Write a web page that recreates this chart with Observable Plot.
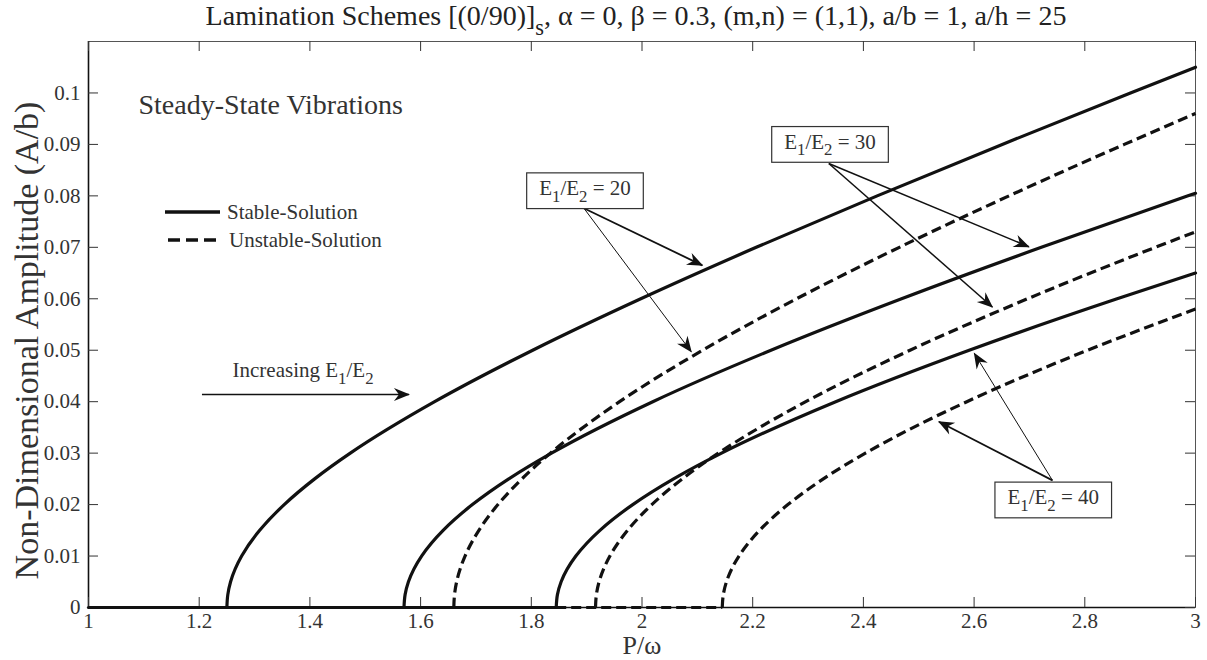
<!DOCTYPE html>
<html><head><meta charset="utf-8">
<script src="https://cdn.jsdelivr.net/npm/d3@7"></script>
<script src="https://cdn.jsdelivr.net/npm/@observablehq/plot@0.6"></script>
<style>
body{margin:0;background:#fff;overflow:hidden;}
#wrap{position:relative;width:1207px;height:660px;font-family:"Liberation Serif","Times New Roman",serif;}
#title{position:absolute;top:1px;left:636px;transform:translateX(-50%);white-space:nowrap;font-size:28px;line-height:30px;color:#222;}
#title sub{font-size:0.8em;vertical-align:-0.45em;line-height:0;}
#chart{position:absolute;left:0;top:0;}
</style></head>
<body><div id="wrap"><div id="chart"></div><div id="title">Lamination Schemes [(0/90)]<sub>s</sub>, α = 0, β = 0.3, (m,n) = (1,1), a/b = 1, a/h = 25</div></div>
<script>
// ---- axis ticks ----
const xTicks = [1, 1.2, 1.4, 1.6, 1.8, 2, 2.2, 2.4, 2.6, 2.8, 3];
const xTickLabels = ["1", "1.2", "1.4", "1.6", "1.8", "2", "2.2", "2.4", "2.6", "2.8", "3"];
const yTicks = [0, 0.01, 0.02, 0.03, 0.04, 0.05, 0.06, 0.07, 0.08, 0.09, 0.1];
const yTickLabels = ["0", "0.01", "0.02", "0.03", "0.04", "0.05", "0.06", "0.07", "0.08", "0.09", "0.1"];

// ---- E1/E2 = 20 ----
const e20StableP = [1.25, 1.2517, 1.2567, 1.2767, 1.3093, 1.3536, 1.4086, 1.473, 1.6254, 1.8025, 1.9978, 2.2064, 2.4249, 2.6508, 2.8825, 3.0];
const e20StableA = [0, 0.0025, 0.005, 0.01, 0.015, 0.02, 0.025, 0.03, 0.04, 0.05, 0.06, 0.07, 0.08, 0.09, 0.1, 0.105];
const e20UnstableP = [1.66, 1.6613, 1.6651, 1.6803, 1.7053, 1.7397, 1.783, 1.8345, 1.9595, 2.1094, 2.2792, 2.4649, 2.6631, 2.8713, 3.0];
const e20UnstableA = [0, 0.0025, 0.005, 0.01, 0.015, 0.02, 0.025, 0.03, 0.04, 0.05, 0.06, 0.07, 0.08, 0.09, 0.096];
// ---- E1/E2 = 30 ----
const e30StableP = [1.57, 1.572, 1.578, 1.6018, 1.6407, 1.6936, 1.7593, 1.8365, 2.0195, 2.233, 2.4689, 2.7215, 2.9865, 3.0];
const e30StableA = [0, 0.0025, 0.005, 0.01, 0.015, 0.02, 0.025, 0.03, 0.04, 0.05, 0.06, 0.07, 0.08, 0.0805];
const e30UnstableP = [1.916, 1.9176, 1.9225, 1.942, 1.9739, 2.0177, 2.0727, 2.138, 2.2959, 2.4842, 2.6965, 2.9276, 3.0];
const e30UnstableA = [0, 0.0025, 0.005, 0.01, 0.015, 0.02, 0.025, 0.03, 0.04, 0.05, 0.06, 0.07, 0.073];
// ---- E1/E2 = 40 ----
const e40StableP = [1.845, 1.8472, 1.8539, 1.8805, 1.924, 1.9833, 2.0571, 2.1437, 2.35, 2.5911, 2.8584, 3.0];
const e40StableA = [0, 0.0025, 0.005, 0.01, 0.015, 0.02, 0.025, 0.03, 0.04, 0.05, 0.06, 0.065];
const e40UnstableP = [2.145, 2.1469, 2.1526, 2.1752, 2.2125, 2.2636, 2.3276, 2.4036, 2.5869, 2.8051, 3.0];
const e40UnstableA = [0, 0.0025, 0.005, 0.01, 0.015, 0.02, 0.025, 0.03, 0.04, 0.05, 0.058];
// ---- trivial (zero-amplitude) solution ----
const zeroStableP = [1, 1.845];
const zeroStableA = [0, 0];
const zeroUnstableP = [1.845, 2.145];
const zeroUnstableA = [0, 0];

// ---- annotations (data coordinates) ----
const boxLabels = ["E_1/E_2 = 20", "E_1/E_2 = 30", "E_1/E_2 = 40"];
const boxLabelP = [1.897, 2.3397, 2.743];
const boxLabelA = [0.0815, 0.0905, 0.0214];
const arrowFromP = [1.205, 1.895, 1.895, 2.3375, 2.3375, 2.7416, 2.7416];
const arrowFromA = [0.0414, 0.0776, 0.0776, 0.0863, 0.0863, 0.0247, 0.0247];
const arrowToP = [1.579, 2.109, 2.089, 2.699, 2.633, 2.6004, 2.5364];
const arrowToA = [0.0414, 0.0665, 0.0497, 0.0701, 0.0584, 0.0494, 0.0361];
const noteTexts = ["Steady-State Vibrations", "Increasing E_1/E_2"];
const noteP = [1.0903, 1.2602];
const noteA = [0.0977, 0.0461];
const legendLabels = ["Stable-Solution", "Unstable-Solution"];
const xLabel = "P/ω";
const yLabel = "Non-Dimensional Amplitude (A/b)";

// ---- layout / style ----
const W = 1207, H = 660, ML = 88, MR = 12, MT = 41, MB = 53;
const FW = W - ML - MR, FH = H - MT - MB;
const arrowWidths = [1.5, 1.8, 1, 1.5, 1.5, 1, 1.8];
const FONT = '"Liberation Serif", "Times New Roman", serif';

function rows(id, ps, as) { return ps.map((p, i) => ({id, p, a: as[i]})); }
const stableRows = [
  ...rows("z", zeroStableP, zeroStableA),
  ...rows("20", e20StableP, e20StableA),
  ...rows("30", e30StableP, e30StableA),
  ...rows("40", e40StableP, e40StableA)
];
const unstableRows = [
  ...rows("z", zeroUnstableP, zeroUnstableA),
  ...rows("20", e20UnstableP, e20UnstableA),
  ...rows("30", e30UnstableP, e30UnstableA),
  ...rows("40", e40UnstableP, e40UnstableA)
];
const arrows = arrowFromP.map((p, i) => ({x1: p, y1: arrowFromA[i], x2: arrowToP[i], y2: arrowToA[i], w: arrowWidths[i]}));
const boxes = boxLabels.map((t, i) => ({t, p: boxLabelP[i], a: boxLabelA[i]}));
const notes = noteTexts.map((t, i) => ({t, p: noteP[i], a: noteA[i]}));

const chart = Plot.plot({
  width: W, height: H,
  marginLeft: ML, marginRight: MR, marginTop: MT, marginBottom: MB,
  style: {fontFamily: FONT, fontSize: "21px", color: "#333", background: "#fff", overflow: "visible"},
  x: {domain: [1, 3], ticks: xTicks, tickFormat: d => xTickLabels[xTicks.indexOf(d)], tickSize: 0, tickPadding: 6, label: null},
  y: {domain: [0, 0.11], ticks: yTicks, tickFormat: d => yTickLabels[yTicks.indexOf(d)], tickSize: 0, tickPadding: 8, label: null},
  marks: [
    Plot.frame({stroke: "#555", strokeWidth: 1}),
    Plot.ruleX([1], {stroke: "#111", strokeWidth: 1.6}),
    Plot.ruleY([0], {stroke: "#111", strokeWidth: 1.6}),
    Plot.tickX(xTicks, {x: d => d, insetTop: FH - 10, stroke: "#333"}),
    Plot.tickX(xTicks, {x: d => d, insetBottom: FH - 10, stroke: "#333"}),
    Plot.tickY(yTicks, {y: d => d, insetRight: FW - 10, stroke: "#333"}),
    Plot.tickY(yTicks, {y: d => d, insetLeft: FW - 10, stroke: "#333"}),
    Plot.line(stableRows, {x: "p", y: "a", z: "id", curve: "monotone-y", stroke: "#111", strokeWidth: 3.2}),
    Plot.line(unstableRows, {x: "p", y: "a", z: "id", curve: "monotone-y", stroke: "#111", strokeWidth: 3.2, strokeDasharray: "10,5", strokeLinecap: "butt"}),
    Plot.link(arrows, {x1: "x1", y1: "y1", x2: "x2", y2: "y2", stroke: "#111", strokeWidth: "w"}),
    Plot.text(boxes, {x: "p", y: "a", text: "t", fontSize: 21, fill: "#333"}),
    Plot.text(notes.slice(0, 1), {x: "p", y: "a", text: "t", fontSize: 28, fill: "#333", textAnchor: "start"}),
    Plot.text(notes.slice(1), {x: "p", y: "a", text: "t", fontSize: 21, fill: "#333", textAnchor: "start"}),
    Plot.text([yLabel], {text: d => d, frameAnchor: "left", textAnchor: "middle", lineAnchor: "middle", rotate: -90, dx: -61, dy: 16, fontSize: 34, fill: "#333"}),
    Plot.text([xLabel], {text: d => d, frameAnchor: "bottom", textAnchor: "middle", lineAnchor: "middle", dy: 38.5, fontSize: 26, fill: "#333"})
  ]
});
document.getElementById("chart").appendChild(chart);

const svg = d3.select(chart);
// arrowheads
const defs = svg.insert("defs", ":first-child");
defs.append("marker").attr("id", "ah").attr("viewBox", "-17 -8 19 16")
  .attr("markerWidth", 19).attr("markerHeight", 16).attr("markerUnits", "userSpaceOnUse")
  .attr("refX", 0).attr("refY", 0).attr("orient", "auto")
  .append("path").attr("d", "M1,0L-15,-6.5L-10,0L-15,6.5Z").attr("fill", "#111");
svg.selectAll('g[aria-label="link"] path').attr("marker-end", "url(#ah)");

// subscripts and label boxes
svg.selectAll("text").each(function () {
  const t = this.textContent;
  if (!t.includes("_")) return;
  const fs = parseFloat(getComputedStyle(this).fontSize) || 21;
  const shift = 0.32 * fs;
  const sel = d3.select(this);
  sel.text(null);
  const parts = t.split(/_(\d)/);
  let down = false;
  parts.forEach((p, i) => {
    if (!p) return;
    const ts = sel.append("tspan").text(p);
    if (i % 2 === 1) {
      ts.attr("font-size", 0.8 * fs).attr("dy", down ? 0 : shift);
      down = true;
    } else if (down) {
      ts.attr("dy", -shift);
      down = false;
    }
  });
  if (t.startsWith("E_1/E_2 =")) {
    const bb = this.getBBox();
    d3.select(this.parentNode).insert("rect", () => this)
      .attr("transform", this.getAttribute("transform"))
      .attr("x", bb.x - 12.5).attr("y", bb.y - 3)
      .attr("width", bb.width + 25).attr("height", bb.height + 6)
      .attr("fill", "#fff").attr("stroke", "#333").attr("stroke-width", 1.2);
  }
});

// legend
const lg = svg.append("g");
lg.append("line").attr("x1", 165).attr("x2", 220).attr("y1", 212).attr("y2", 212)
  .attr("stroke", "#111").attr("stroke-width", 3.6);
lg.append("line").attr("x1", 168).attr("x2", 219).attr("y1", 240).attr("y2", 240)
  .attr("stroke", "#111").attr("stroke-width", 3.6).attr("stroke-dasharray", "12,6");
legendLabels.forEach((l, i) => {
  lg.append("text").attr("x", i ? 229 : 227).attr("y", i ? 240 : 212).attr("dy", "0.32em")
    .attr("text-anchor", "start")
    .attr("font-family", FONT).attr("font-size", 21).attr("fill", "#333").text(l);
});
</script>
</body></html>
